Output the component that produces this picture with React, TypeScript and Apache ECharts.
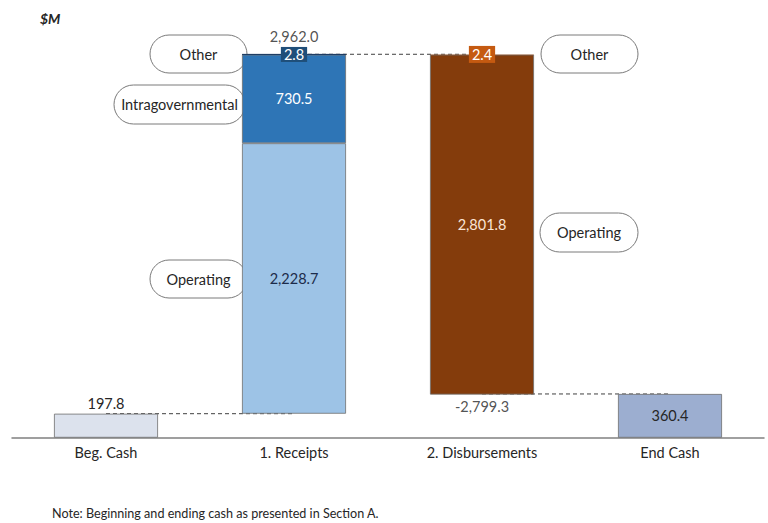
import React, { useEffect, useRef } from "react";
import * as echarts from "echarts";

// Cash flow waterfall, $M
const categories = ["Beg. Cash", "1. Receipts", "2. Disbursements", "End Cash"];
const begCash = 197.8;
const endCash = 360.4;
const receiptsOperating = 2228.7;
const receiptsIntragov = 730.5;
const receiptsOther = 2.8;
const receiptsTotal = 2962.0;
const disbOperating = 2801.8;
const disbOther = 2.4;
const disbTotal = -2799.3;

const FONT = "Lato, 'Liberation Sans', sans-serif";

const fmt = (v: number) =>
  v.toLocaleString("en-US", { minimumFractionDigits: 1, maximumFractionDigits: 1 });

export default function App() {
  const ref = useRef<HTMLDivElement>(null);

  useEffect(() => {
    if (!ref.current) return;
    const chart = echarts.init(ref.current, undefined, { renderer: "svg" });

    const afterReceipts = begCash + receiptsOperating + receiptsIntragov + receiptsOther;
    const disbBase = afterReceipts - disbOperating - disbOther;
    const border = { borderColor: "#6f6f6f", borderWidth: 0.8 };

    const callout = (x: number, y: number, w: number, h: number, text: string) => ({
      type: "group",
      x,
      y,
      z: 100,
      children: [
        {
          type: "rect",
          shape: { x: 0, y: 0, width: w, height: h, r: h / 2 },
          style: { fill: "#ffffff", stroke: "#7a7a7a", lineWidth: 1 },
        },
        {
          type: "text",
          x: w / 2,
          y: h / 2,
          style: {
            text,
            fill: "#262626",
            font: `14.5px ${FONT}`,
            align: "center",
            verticalAlign: "middle",
          },
        },
      ],
    });

    const dashed = (from: number, to: number, v: number) => ({
      type: "line",
      z: 1,
      silent: true,
      symbol: "none",
      data: [
        [from, v],
        [to, v],
      ],
      lineStyle: { color: "#404040", width: 1, type: [4, 3] },
    });

    const option: echarts.EChartsOption = {
      animation: false,
      textStyle: { fontFamily: FONT },
      grid: { left: 12, right: 4, top: 13, bottom: 85.3 },
      xAxis: {
        type: "category",
        data: categories,
        axisTick: { show: false },
        axisLine: { lineStyle: { color: "#808080", width: 1.5 } },
        axisLabel: { color: "#262626", fontSize: 14.5, margin: 7, fontFamily: FONT },
      },
      yAxis: { type: "value", min: 0, max: 3500, show: false, splitLine: { show: false } },
      series: [
        dashed(0, 1, begCash),
        dashed(1, 2, afterReceipts),
        dashed(2, 3, endCash),
        {
          name: "base",
          type: "bar",
          stack: "w",
          barWidth: 104,
          itemStyle: { color: "transparent" },
          data: [0, begCash, disbBase, 0],
        },
        {
          name: "cash",
          type: "bar",
          stack: "w",
          data: [
            {
              value: begCash,
              itemStyle: { color: "#dce2ed", ...border },
              label: { show: true, position: "top", distance: 3 },
            },
            "-",
            "-",
            {
              value: endCash,
              itemStyle: { color: "#9caed0", ...border },
              label: { show: true, position: "inside" },
            },
          ],
          label: { color: "#262626", fontSize: 14.5, formatter: (p: any) => fmt(p.value) },
        },
        {
          name: "Receipts Operating",
          type: "bar",
          stack: "w",
          itemStyle: { color: "#9dc3e6", ...border },
          label: { show: true, position: "inside", color: "#1c2b4a", fontSize: 14.5, formatter: (p: any) => fmt(p.value) },
          data: ["-", receiptsOperating, "-", "-"],
        },
        {
          name: "Receipts Intragovernmental",
          type: "bar",
          stack: "w",
          itemStyle: { color: "#2e75b6", ...border },
          label: { show: true, position: "inside", color: "#ffffff", fontSize: 14.5, formatter: (p: any) => fmt(p.value) },
          data: ["-", receiptsIntragov, "-", "-"],
        },
        {
          name: "Receipts Other",
          type: "bar",
          stack: "w",
          itemStyle: { color: "#1f3d63", borderColor: "#1f3d63", borderWidth: 1 },
          label: {
            show: true,
            position: "inside",
            color: "#ffffff",
            fontSize: 14.5,
            backgroundColor: "#1f4e79",
            padding: [0, 3, 0, 3],
            formatter: (p: any) => fmt(p.value),
          },
          data: ["-", receiptsOther, "-", "-"],
        },
        {
          name: "Disbursements Operating",
          type: "bar",
          stack: "w",
          itemStyle: { color: "#843c0c", ...border },
          label: { show: true, position: "inside", color: "#fbe5d6", fontSize: 14.5, formatter: (p: any) => fmt(p.value) },
          data: ["-", "-", disbOperating, "-"],
        },
        {
          name: "Disbursements Other",
          type: "bar",
          stack: "w",
          itemStyle: { color: "#c55a11" },
          label: {
            show: true,
            position: "inside",
            color: "#ffffff",
            fontSize: 14.5,
            backgroundColor: "#c55a11",
            padding: [1, 3, 1, 3],
            formatter: (p: any) => fmt(p.value),
          },
          data: ["-", "-", disbOther, "-"],
        },
        {
          name: "totals",
          type: "scatter",
          symbolSize: 0,
          z: 5,
          silent: true,
          data: [
            {
              value: [1, afterReceipts],
              label: { show: true, position: "top", distance: 10, formatter: fmt(receiptsTotal) },
            },
            {
              value: [2, disbBase],
              label: { show: true, position: "bottom", distance: 4, formatter: fmt(disbTotal) },
            },
          ],
          label: { color: "#262626", fontSize: 14.5 },
        },
      ],
      graphic: [
        {
          type: "text",
          left: 40,
          top: 11,
          style: { text: "$M", font: `italic bold 14px ${FONT}`, fill: "#262626" },
        },
        callout(150, 35, 97, 38, "Other"),
        callout(114, 85, 131, 39, "Intragovernmental"),
        callout(150, 260, 97, 38, "Operating"),
        callout(541, 35, 97, 38, "Other"),
        callout(540, 213, 98, 39, "Operating"),
        {
          type: "text",
          left: 52,
          top: 507,
          style: {
            text: "Note: Beginning and ending cash as presented in Section A.",
            font: `12.6px ${FONT}`,
            fill: "#262626",
          },
        },
      ],
    };

    chart.setOption(option);
    return () => chart.dispose();
  }, []);

  return (
    <div
      ref={ref}
      style={{ position: "absolute", left: 0, top: 0, width: 768, height: 523, background: "#ffffff" }}
    />
  );
}
